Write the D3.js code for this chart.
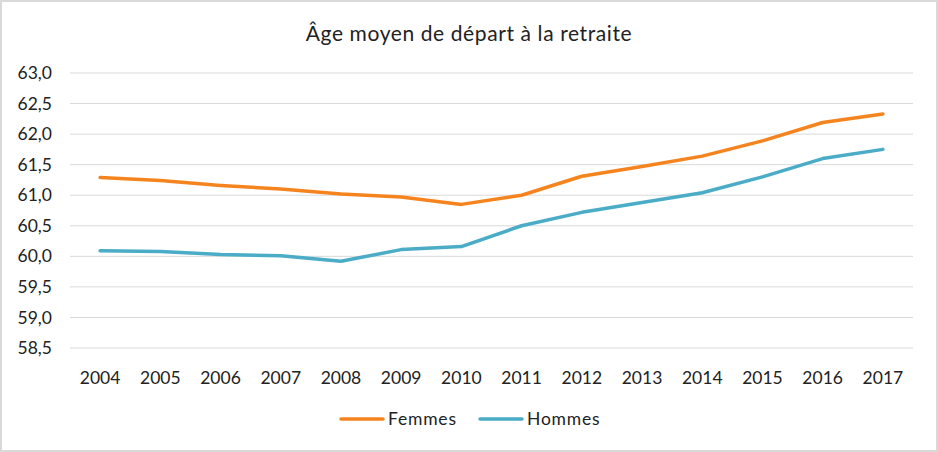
<!DOCTYPE html>
<html>
<head>
<meta charset="utf-8">
<script src="https://cdn.jsdelivr.net/npm/d3@7"></script>
<style>
  body { margin: 0; background: #fff; }
  text { font-family: Lato, "Open Sans", sans-serif; fill: #222; }
</style>
</head>
<body>
<div id="chart"></div>
<script>
// Data
const years = ["2004", "2005", "2006", "2007", "2008", "2009", "2010", "2011", "2012", "2013", "2014", "2015", "2016", "2017"]
const femmes = [61.29, 61.24, 61.16, 61.10, 61.02, 60.97, 60.85, 61.00, 61.31, 61.47, 61.64, 61.89, 62.19, 62.33]
const hommes = [60.09, 60.08, 60.03, 60.01, 59.92, 60.11, 60.16, 60.50, 60.72, 60.88, 61.04, 61.30, 61.60, 61.75]
const yTicks = [58.5, 59, 59.5, 60, 60.5, 61, 61.5, 62, 62.5, 63]
const seriesNames = ["Femmes", "Hommes"]
const colors = ["#f5841f", "#4aacc6"]

const W = 938, H = 452
const margin = { top: 73, right: 25, bottom: 104, left: 70 }
const width = W - margin.left - margin.right,
    height = H - margin.top - margin.bottom

const svg = d3.select("#chart").append("svg")
    .attr("width", W)
    .attr("height", H)

// outer frame
svg.append("rect")
    .attr("x", 1).attr("y", 1)
    .attr("width", W - 2).attr("height", H - 2)
    .attr("fill", "#fff")
    .attr("stroke", "#d9d9d9")
    .attr("stroke-width", 2)

svg.append("text")
    .attr("x", W / 2)
    .attr("y", 41)
    .attr("text-anchor", "middle")
    .style("font-size", "21px")
    .style("letter-spacing", "0.6px")
    .text("Âge moyen de départ à la retraite")

const g = svg.append("g")
    .attr("transform", `translate(${margin.left},${margin.top})`)

const x = d3.scaleBand().domain(years).range([0, width])
const y = d3.scaleLinear().domain([58.5, 63]).range([height, 0])
const fmt = d => d3.format(".1f")(d).replace(".", ",")

// grid lines
g.selectAll(".grid")
    .data(yTicks)
    .join("line")
    .attr("x1", 0).attr("x2", width)
    .attr("y1", d => y(d)).attr("y2", d => y(d))
    .attr("stroke", "#d9d9d9")
    .attr("stroke-width", 1)

// y labels
g.selectAll(".ylab")
    .data(yTicks)
    .join("text")
    .attr("x", -18)
    .attr("y", d => y(d))
    .attr("dy", "0.35em")
    .attr("text-anchor", "end")
    .style("font-size", "17.5px")
    .text(fmt)

// x labels
g.selectAll(".xlab")
    .data(years)
    .join("text")
    .attr("x", d => x(d) + x.bandwidth() / 2)
    .attr("y", height + 30)
    .attr("dy", "0.35em")
    .attr("text-anchor", "middle")
    .style("font-size", "17.5px")
    .text(d => d)

const line = d3.line()
    .x((d, i) => x(years[i]) + x.bandwidth() / 2)
    .y(d => y(d))

;[femmes, hommes].forEach(function (s, k) {
    g.append("path")
        .datum(s)
        .attr("fill", "none")
        .attr("stroke", colors[k])
        .attr("stroke-width", 3.5)
        .attr("stroke-linecap", "round")
        .attr("stroke-linejoin", "round")
        .attr("d", line)
})

// legend
const legendY = 419
const legendX = [341, 480]
seriesNames.forEach(function (name, k) {
    svg.append("line")
        .attr("x1", legendX[k]).attr("x2", legendX[k] + 42)
        .attr("y1", legendY).attr("y2", legendY)
        .attr("stroke", colors[k])
        .attr("stroke-width", 3.5)
        .attr("stroke-linecap", "round")
    svg.append("text")
        .attr("x", legendX[k] + 47)
        .attr("y", legendY)
        .attr("dy", "0.35em")
        .style("font-size", "17.5px")
        .style("letter-spacing", "0.8px")
        .text(name)
})
</script>
</body>
</html>
